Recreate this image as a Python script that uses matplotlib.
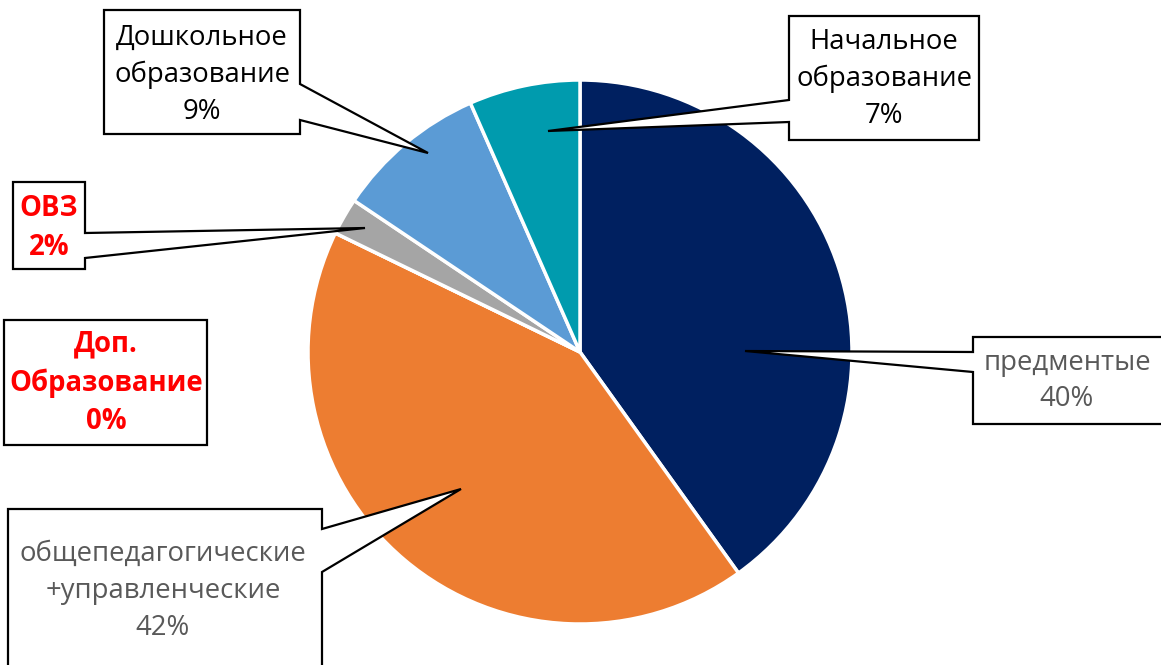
import matplotlib.pyplot as plt
from matplotlib.patches import Polygon

plt.rcParams['font.family'] = ['Open Sans', 'DejaVu Sans']

W, H = 1161, 665

# data, clockwise from 12 o'clock
categories = ["предментые", "общепедагогические\n+управленческие", "Доп.\nОбразование",
              "ОВЗ", "Дошкольное\nобразование", "Начальное\nобразование"]
shares = [40.1, 42.1, 0.0, 2.2, 9.0, 6.6]
colors = ["#002060", "#ED7D31", "#FFC000", "#A5A5A5", "#5B9BD5", "#009BAE"]
label_colors = ["#595959", "#595959", "red", "red", "black", "black"]
label_bold = [False, False, True, True, False, False]

# callout layout in pixel coords (top-left origin): box l, t, r, b ; pointer side, base y1, y2 ; tip
boxes = [(973, 337, 1170, 424), (8, 509, 322, 675), (4, 320, 207, 445),
         (13, 182, 85, 269), (104, 10, 300, 134), (789, 16, 979, 140)]
text_pos = [(1067, 381), (163, 591), (106, 383), (49, 228), (202, 75), (884, 79)]
pointers = [("left", 352, 372, (745, 351)), ("right", 529, 572, (461, 489)), None,
            ("right", 233, 258, (365, 228)), ("right", 84, 120, (428, 153)),
            ("left", 100, 122, (548, 131))]


def Y(py):
    return H - py


fig = plt.figure(figsize=(W / 100, H / 100), dpi=100)
ax = fig.add_axes([0, 0, 1, 1])

ax.pie(shares, colors=colors, startangle=90, counterclock=False,
       center=(580, Y(352)), radius=272,
       wedgeprops=dict(edgecolor="white", linewidth=2.5))

for i, cat in enumerate(categories):
    l, t, r, b = boxes[i]
    p = pointers[i]
    if p is None:
        pts = [(l, t), (r, t), (r, b), (l, b)]
    elif p[0] == "right":
        side, y1, y2, tip = p
        pts = [(l, t), (r, t), (r, y1), tip, (r, y2), (r, b), (l, b)]
    else:
        side, y1, y2, tip = p
        pts = [(l, t), (r, t), (r, b), (l, b), (l, y2), tip, (l, y1)]
    pts = [(x, Y(y)) for x, y in pts]
    ax.add_patch(Polygon(pts, closed=True, facecolor="white", edgecolor="black",
                         linewidth=1.6, zorder=3))
    pct = f"{round(shares[i])}%"
    tx, ty = text_pos[i]
    ax.text(tx, Y(ty), cat + "\n" + pct, ha="center", va="center",
            fontsize=19.8, color=label_colors[i],
            fontweight="bold" if label_bold[i] else "normal",
            linespacing=1.42, zorder=4)

ax.set_xlim(0, W)
ax.set_ylim(0, H)
ax.set_aspect("equal")
ax.axis("off")

fig.savefig("out.png", dpi=100, facecolor="white")
